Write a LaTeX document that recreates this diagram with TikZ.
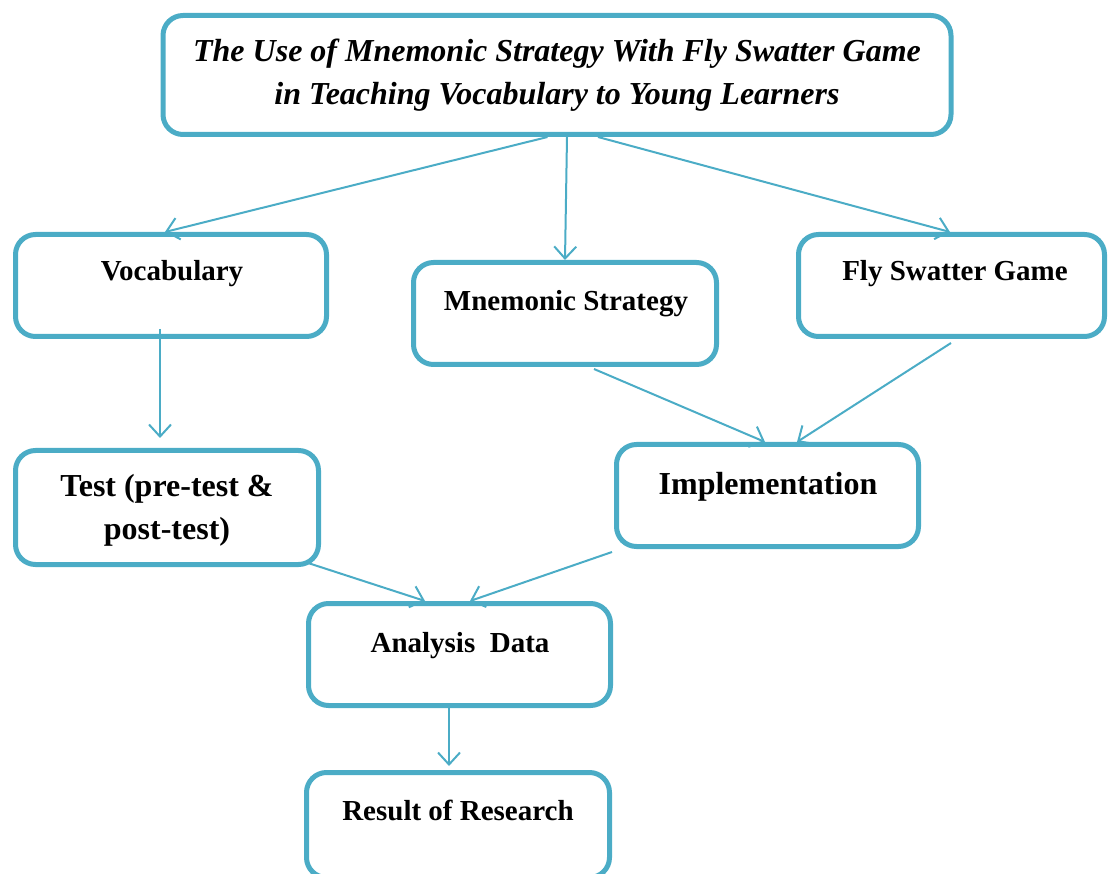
\documentclass[tikz,border=0pt]{standalone}
\usepackage{fontspec}
\setmainfont{Liberation Serif}
\usetikzlibrary{arrows.meta}
\definecolor{boxblue}{RGB}{75,172,198}
\begin{document}
\begin{tikzpicture}[x=1pt,y=-1pt,
  box/.style={draw=boxblue, line width=5pt, rounded corners=20pt, inner sep=0pt},
  lbl/.style={font=\fontsize{29}{43}\selectfont\bfseries, anchor=base, align=center, inner sep=0pt},
  biglbl/.style={font=\fontsize{32}{43}\selectfont\bfseries, anchor=base, align=center, inner sep=0pt},
  conn/.style={draw=boxblue, line width=2pt, -{Straight Barb[length=12pt,width=22pt]}}
]
\useasboundingbox (0,0) rectangle (1109,874);
\begin{scope}
\clip (0,0) rectangle (1109,874);
\node[box, minimum width=788pt, minimum height=119pt] (title) at (557,75) {};
\node[box, minimum width=311pt, minimum height=102pt] (vocab) at (171,285.5) {};
\node[box, minimum width=303pt, minimum height=102pt] (mnem) at (565,313.5) {};
\node[box, minimum width=306pt, minimum height=102pt] (fly) at (951.5,285.5) {};
\node[box, minimum width=303pt, minimum height=114pt] (test) at (167,507.5) {};
\node[box, minimum width=302pt, minimum height=102pt] (impl) at (767.5,495.5) {};
\node[box, minimum width=302pt, minimum height=102pt] (anal) at (459.5,654.5) {};
\node[box, minimum width=303pt, minimum height=105pt] (res) at (458,825) {};
\end{scope}

\node[lbl, font=\fontsize{32}{43}\selectfont\bfseries\itshape] (titleT) at (557,105) {The Use of Mnemonic Strategy With Fly Swatter Game\\in Teaching Vocabulary to Young Learners};
\node[lbl] (vocabT) at (172,281) {Vocabulary};
\node[lbl] (mnemT) at (566,311) {Mnemonic Strategy};
\node[lbl] (flyT) at (955,281) {Fly Swatter Game};
\node[biglbl] (testT) at (167,539) {Test (pre-test \&\\post-test)};
\node[biglbl] (implT) at (768,494) {Implementation};
\node[lbl] (analT) at (460,652) {Analysis\ \ Data};
\node[lbl] (resT) at (458,820) {Result of Research};

\draw[conn] ([xshift=-9.5pt]title.south) -- ([xshift=-6pt]vocab.north);
\draw[conn] ([xshift=10pt]title.south) -- (mnem.north);
\draw[conn] ([xshift=41pt]title.south) -- ([xshift=-1.5pt]fly.north);
\draw[conn] ([xshift=-11pt,yshift=10pt]vocab.south) -- ([xshift=-7pt,yshift=10pt]test.north);
\draw[conn] ([xshift=29pt,yshift=-2pt]mnem.south) -- ([xshift=-2.5pt]impl.north);
\draw[conn] ([xshift=-0.5pt,yshift=-4pt]fly.south) -- ([xshift=29.5pt]impl.north);
\draw[conn] ([xshift=138pt,yshift=5pt]test.south) -- ([xshift=-34.5pt]anal.north);
\draw[conn] ([xshift=-155.5pt,yshift=-3pt]impl.south) -- ([xshift=10.5pt]anal.north);
\draw[conn] ([xshift=-10.5pt]anal.south) -- ([xshift=-9pt,yshift=4pt]res.north);
\end{tikzpicture}
\end{document}
